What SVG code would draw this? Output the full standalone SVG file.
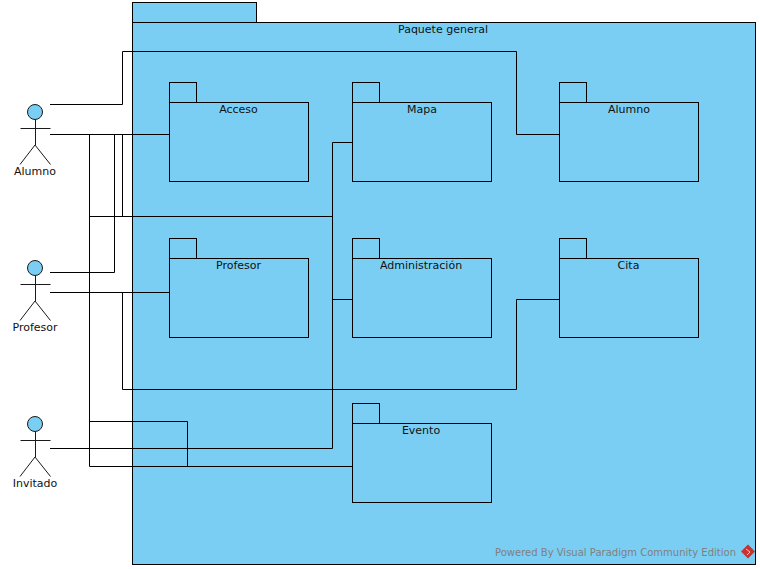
<svg xmlns="http://www.w3.org/2000/svg" width="760" height="569" viewBox="0 0 760 569">
<style>
.p{fill:#7acef4;stroke:#000;stroke-width:1}
.c{fill:none;stroke:#000;stroke-width:1}
.a{fill:none;stroke:#1a1a1a;stroke-width:1}
.h{fill:#7acef4;stroke:#1a1a1a;stroke-width:1}
text{font-family:"DejaVu Sans",sans-serif;font-size:11px;fill:#111;text-anchor:middle}
.w{fill:#808080;text-anchor:start;font-size:10px}
</style>
<rect width="760" height="569" fill="#fff"/>
<g id="paquete-general">
<rect class="p" x="132.5" y="2.5" width="124" height="20"/>
<rect class="p" x="132.5" y="22.5" width="623" height="542"/>
<text x="443" y="33">Paquete general</text>
</g>
<g id="acceso"><rect class="p" x="169.5" y="82.5" width="27" height="20"/><rect class="p" x="169.5" y="102.5" width="139" height="79"/><text x="238.5" y="113">Acceso</text></g>
<g id="mapa"><rect class="p" x="352.5" y="82.5" width="27" height="20"/><rect class="p" x="352.5" y="102.5" width="139" height="79"/><text x="422" y="113">Mapa</text></g>
<g id="alumno-pkg"><rect class="p" x="559.5" y="82.5" width="27" height="20"/><rect class="p" x="559.5" y="102.5" width="139" height="79"/><text x="629" y="113">Alumno</text></g>
<g id="profesor-pkg"><rect class="p" x="169.5" y="238.5" width="27" height="20"/><rect class="p" x="169.5" y="258.5" width="139" height="79"/><text x="238.5" y="269">Profesor</text></g>
<g id="administracion"><rect class="p" x="352.5" y="238.5" width="27" height="20"/><rect class="p" x="352.5" y="258.5" width="139" height="79"/><text x="421" y="269">Administración</text></g>
<g id="cita"><rect class="p" x="559.5" y="238.5" width="27" height="20"/><rect class="p" x="559.5" y="258.5" width="139" height="79"/><text x="628.5" y="269">Cita</text></g>
<g id="evento"><rect class="p" x="352.5" y="403.5" width="27" height="20"/><rect class="p" x="352.5" y="423.5" width="139" height="79"/><text x="421" y="434">Evento</text></g>
<g id="connectors">
<path class="c" d="M50 104.500H122.500V51.500H516.500V134.500H559"/>
<path class="c" d="M50 134.500H169"/>
<path class="c" d="M50 272.500H114.500V134.500"/>
<path class="c" d="M122.500 134.500V216.500H332.500"/>
<path class="c" d="M89.500 134.500V466.500H352"/>
<path class="c" d="M89.500 216.500H332.500"/>
<path class="c" d="M89.500 421.500H187.500V466.500"/>
<path class="c" d="M50 292.500H169"/>
<path class="c" d="M122.500 292.500V389.500H516.500V299.500H559"/>
<path class="c" d="M50 448.500H332.500V142.500H352"/>
<path class="c" d="M332.500 299.500H352"/>
</g>
<g id="actor-alumno"><circle class="h" cx="35" cy="112" r="7.500"/><path class="a" d="M35.500 119.500V145M20.500 128.500H50.500M35 145L20 164.500M35 145L50.500 164.500"/><text x="35" y="175">Alumno</text></g>
<g id="actor-profesor"><circle class="h" cx="35" cy="268" r="7.500"/><path class="a" d="M35.500 275.500V301M20.500 284.500H50.500M35 301L20 320.500M35 301L50.500 320.500"/><text x="35" y="331">Profesor</text></g>
<g id="actor-invitado"><circle class="h" cx="35" cy="424" r="7.500"/><path class="a" d="M35.500 431.500V457M20.500 440.500H50.500M35 457L20 476.500M35 457L50.500 476.500"/><text x="35" y="487">Invitado</text></g>
<g id="watermark">
<text class="w" x="495" y="556" textLength="241" lengthAdjust="spacing">Powered By Visual Paradigm Community Edition</text>
<path d="M748 544.500L755 551.500L748 558.500L741 551.500Z" fill="#c8332f"/>
<path d="M746 549L750 552L747 555" fill="none" stroke="#f4c9c4" stroke-width="1"/>
</g>
</svg>
